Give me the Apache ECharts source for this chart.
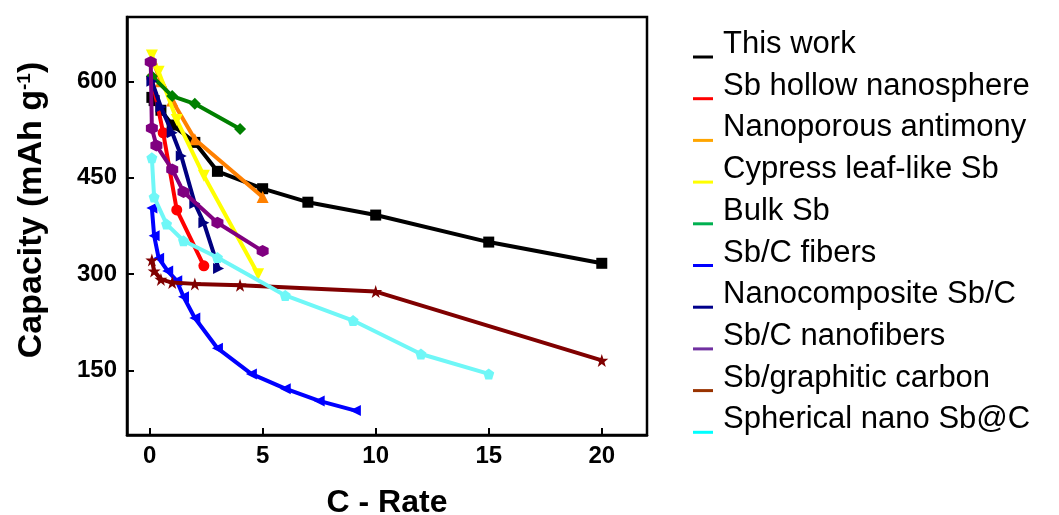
<!DOCTYPE html>
<html>
<head>
<meta charset="utf-8">
<script src="https://cdn.jsdelivr.net/npm/echarts@6/dist/echarts.min.js"></script>
<style>
html,body{margin:0;padding:0;background:#fff;}
#chart{width:1059px;height:515px;}
</style>
</head>
<body>
<div id="chart"></div>
<script>
// ---- data ----
const seriesNames = [
  'This work', 'Sb hollow nanosphere', 'Nanoporous antimony', 'Cypress leaf-like Sb', 'Bulk Sb',
  'Sb/C fibers', 'Nanocomposite Sb/C', 'Sb/C nanofibers', 'Sb/graphitic carbon', 'Spherical nano Sb@C'
];
const thisWork = [[0.1,575],[0.2,570],[0.5,555],[1,532],[2,505],[3,460],[5,433],[7,412],[10,392],[15,350],[20,317]];
const sbHollow = [[0.1,605],[0.6,520],[1.2,400],[2.4,313]];
const nanoporous = [[0.1,635],[0.5,600],[1,570],[2,510],[5,420]];
const cypress = [[0.1,640],[0.4,615],[1.2,540],[2.4,453],[4.8,300]];
const bulkSb = [[0.1,608],[1,577],[2,565],[4,526]];
const sbcFibers = [[0.1,403],[0.2,360],[0.4,325],[0.8,305],[1.2,290],[1.5,265],[2,232],[3,185],[4.5,145],[6,122],[7.5,103],[9.1,88]];
const nanocomposite = [[0.1,600],[0.5,560],[1,520],[1.4,484],[2,410],[2.4,380],[3.05,309]];
const sbcNanofibers = [[0.05,630],[0.1,527],[0.3,500],[1,463],[1.5,428],[3,380],[5,336]];
const graphitic = [[0.1,322],[0.2,305],[0.5,292],[1,287],[2,285],[4,283],[10,273],[20,166]];
const spherical = [[0.1,481],[0.2,420],[0.75,378],[1.5,352],[3,326],[6,267],[9,228],[12,176],[15,145]];
const xTickValues = [0, 5, 10, 15, 20];
const yTickValues = [150, 300, 450, 600];

const allData = [thisWork, sbHollow, nanoporous, cypress, bulkSb, sbcFibers, nanocomposite, sbcNanofibers, graphitic, spherical];

// ---- styles ----
const lineColors = ['#000000','#ff0000','#ff8000','#ffff00','#008000','#0000ff','#000080','#800080','#800000','#6ff7f7'];
const legendColors = ['#000000','#ff0000','#ffa500','#ffff00','#00b050','#0000ff','#00008b','#7030a0','#993300','#00ffff'];
const symbols = [
  'rect',
  'circle',
  'triangle',
  'path://M0,0 L10,0 L5,9 Z',
  'diamond',
  'path://M9,0 L9,10 L0,5 Z',
  'path://M0,0 L0,10 L9,5 Z',
  'path://M5,0 L9.33,2.5 L9.33,7.5 L5,10 L0.67,7.5 L0.67,2.5 Z',
  'path://M5,0 L6.2,3.6 L10,3.6 L7,5.9 L8.1,9.5 L5,7.3 L1.9,9.5 L3,5.9 L0,3.6 L3.8,3.6 Z',
  'path://M5,0 L10,3.6 L8.1,9.5 L1.9,9.5 L0,3.6 Z'
];
const symbolSizes = [11,11,12,12,12,11,11,12,13,11];

const chart = echarts.init(document.getElementById('chart'), null, {renderer:'canvas'});

const series = seriesNames.map((name, i) => ({
  name: name,
  type: 'line',
  data: allData[i],
  symbol: symbols[i],
  symbolSize: symbolSizes[i],
  showAllSymbol: true,
  lineStyle: {color: lineColors[i], width: 4},
  itemStyle: {color: lineColors[i]},
  z: 2 + i,
  animation: false
}));

const legendIcon = 'path://M0,0 M25,0 M0,26 L20,26 L20,29 L0,29 Z M0,30';

const option = {
  backgroundColor: '#ffffff',
  animation: false,
  grid: {
    left: 127, right: 412, top: 17, bottom: 80,
    outerBoundsMode: 'none', containLabel: false,
    show: true, borderColor: '#000', borderWidth: 2.5, backgroundColor: 'transparent'
  },
  legend: {
    orient: 'vertical',
    left: 693, top: 29, padding: 0,
    itemWidth: 25, itemHeight: 30, itemGap: 10.7,
    icon: legendIcon,
    textStyle: {fontFamily: 'Liberation Sans, Arial, sans-serif', fontSize: 31, lineHeight: 30, color: '#000'},
    data: seriesNames.map((n, i) => ({name: n, icon: legendIcon, itemStyle: {color: legendColors[i]}}))
  },
  xAxis: {
    type: 'value', min: -1, max: 22,
    name: 'C - Rate', nameLocation: 'middle', nameGap: 52,
    nameTextStyle: {fontFamily: 'Liberation Sans, Arial, sans-serif', fontWeight: 'bold', fontSize: 32, color: '#000'},
    axisLine: {show: true, onZero: false, lineStyle: {color: '#000', width: 2.5}},
    axisTick: {show: true, inside: true, length: 7, lineStyle: {color: '#000', width: 2}, customValues: xTickValues},
    axisLabel: {customValues: xTickValues, margin: 9, fontFamily: 'Liberation Sans, Arial, sans-serif', fontWeight: 'bold', fontSize: 24, color: '#000'},
    splitLine: {show: false}
  },
  yAxis: {
    type: 'value', min: 50, max: 700,
    name: 'Capacity (mAh g{sup|-1})', nameLocation: 'middle', nameGap: 78,
    nameTextStyle: {
      fontFamily: 'Liberation Sans, Arial, sans-serif', fontWeight: 'bold', fontSize: 34, color: '#000',
      padding: [0, 0, 0, 32],
      rich: {sup: {fontFamily: 'Liberation Sans, Arial, sans-serif', fontWeight: 'bold', fontSize: 19, color: '#000', verticalAlign: 'top', lineHeight: 19, padding: [0,0,15,0]}}
    },
    axisLine: {show: true, onZero: false, lineStyle: {color: '#000', width: 2.5}},
    axisTick: {show: true, inside: true, length: 7, lineStyle: {color: '#000', width: 2}, customValues: yTickValues},
    axisLabel: {customValues: yTickValues, margin: 10, fontFamily: 'Liberation Sans, Arial, sans-serif', fontWeight: 'bold', fontSize: 24, color: '#000'},
    splitLine: {show: false}
  },
  series: series
};
chart.setOption(option);
</script>
</body>
</html>
